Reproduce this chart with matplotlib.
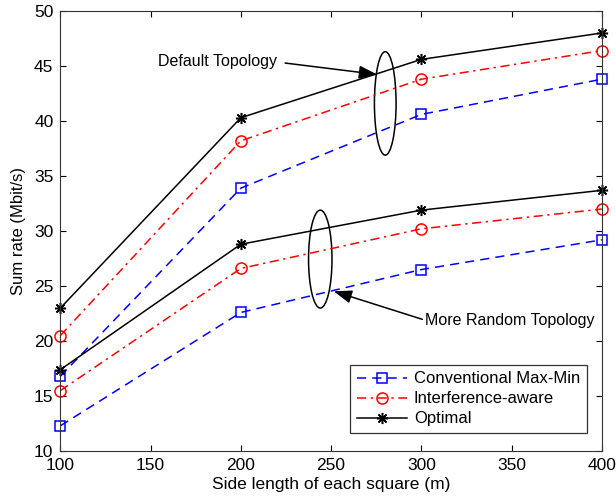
import numpy as np
import matplotlib.pyplot as plt
from matplotlib.patches import Ellipse

plt.rcParams['font.family'] = ['Liberation Sans', 'DejaVu Sans']

side = [100, 200, 300, 400]

# default topology
cmm_def = [16.8, 33.9, 40.6, 43.8]
ia_def = [20.5, 38.2, 43.8, 46.4]
opt_def = [23.0, 40.3, 45.6, 48.0]

# more random topology
cmm_rand = [12.3, 22.6, 26.5, 29.2]
ia_rand = [15.5, 26.6, 30.2, 32.0]
opt_rand = [17.4, 28.8, 31.9, 33.7]

fig = plt.figure(figsize=(6.16, 4.99), dpi=100)
ax = fig.add_axes([0.098, 0.096, 0.879, 0.882])

asterisk = (8, 2, 0)
sty_cmm = dict(color='blue', ls=(0, (6, 4)), lw=1.1, marker='s', ms=7, mfc='none', mew=1.1)
sty_ia = dict(color='red', ls=(0, (6, 3, 1.5, 3)), lw=1.1, marker='o', ms=8, mfc='none', mew=1.1)
sty_opt = dict(color='black', ls='-', lw=1.1, marker=asterisk, ms=8, mew=1.1)

ax.plot(side, cmm_def, label='Conventional Max-Min', clip_on=False, **sty_cmm)
ax.plot(side, ia_def, label='Interference-aware', clip_on=False, **sty_ia)
ax.plot(side, opt_def, label='Optimal', clip_on=False, **sty_opt)
ax.plot(side, cmm_rand, clip_on=False, **sty_cmm)
ax.plot(side, ia_rand, clip_on=False, **sty_ia)
ax.plot(side, opt_rand, clip_on=False, **sty_opt)

ax.add_patch(Ellipse((280, 41.6), 12, 9.4, fill=False, ec='black', lw=1.1))
ax.add_patch(Ellipse((244, 27.45), 13, 8.9, fill=False, ec='black', lw=1.1))

head = '-|>,head_length=1.1,head_width=0.4'
ax.annotate('', xy=(277, 44.2), xytext=(223, 45.3),
            arrowprops=dict(arrowstyle=head, color='black', lw=1.1))
ax.text(220, 45.4, 'Default Topology', ha='right', va='center', fontsize=11.5)
ax.annotate('', xy=(250, 24.6), xytext=(302, 21.9),
            arrowprops=dict(arrowstyle=head, color='black', lw=1.1))
ax.text(302, 21.9, 'More Random Topology', ha='left', va='center', fontsize=11.5)

ax.set_xlim(100, 400)
ax.set_ylim(10, 50)
ax.set_xticks(np.arange(100, 401, 50))
ax.set_yticks(np.arange(10, 51, 5))
ax.tick_params(direction='in', labelsize=12.5, length=4, top=True, right=True, pad=5)
ax.set_xlabel('Side length of each square (m)', fontsize=12.5, labelpad=3)
ax.set_ylabel('Sum rate (Mbit/s)', fontsize=12, labelpad=6)
for s in ax.spines.values():
    s.set_color('#333333')

leg = ax.legend(loc='lower right', bbox_to_anchor=(0.972, 0.041), borderaxespad=0,
                fontsize=12, fancybox=False, edgecolor='#333333', framealpha=1,
                handlelength=3.0, borderpad=0.4, labelspacing=0.3, handletextpad=0.4)
leg.get_frame().set_linewidth(0.9)

fig.savefig('out.png', dpi=100)
